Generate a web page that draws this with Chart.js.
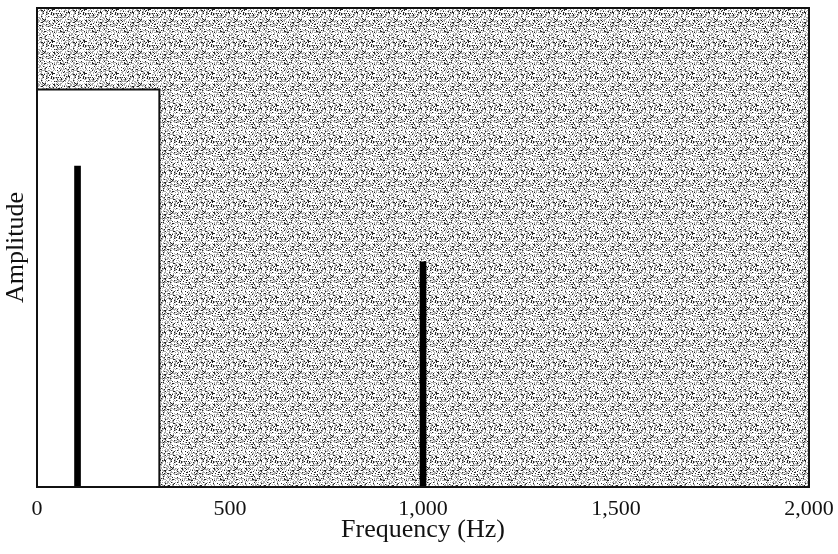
<!DOCTYPE html>
<html>
<head>
<meta charset="utf-8">
<script src="https://cdn.jsdelivr.net/npm/chart.js@4"></script>
<style>
  html, body { margin: 0; padding: 0; background: #fff; }
  #wrap { width: 838px; height: 554px; }
</style>
</head>
<body>
<div id="wrap"><canvas id="Spectrum-Chart" width="838" height="554"></canvas></div>
<script>
// data
const freqTicks = [0, 500, 1000, 1500, 2000]
const bandEdge = 317        // Hz, right side of the white band
const bandLevel = 83
const lineFreqs = [105, 1000]
const lineAmps = [67, 47]

// stipple tile for the plot background (fixed hash, same every run)
function makeStipple() {
  const n = 32
  const c = document.createElement("canvas")
  c.width = n
  c.height = n
  const g = c.getContext("2d")
  g.fillStyle = "#fff"
  g.fillRect(0, 0, n, n)
  for (let y = 0; y < n; y++) {
    for (let x = 0; x < n; x++) {
      let h = (x * 374761393 + y * 668265263) | 0
      h = Math.imul(h ^ (h >>> 13), 1274126177)
      h = ((h ^ (h >>> 16)) >>> 0) % 100
      if (h < 12) {
        g.fillStyle = "#222"
        g.fillRect(x, y, 1, 1)
      } else if (h < 42) {
        g.fillStyle = "#a8a8a8"
        g.fillRect(x, y, 1, 1)
      }
    }
  }
  return c
}

const plotBackground = {
  id: "plotBackground",
  beforeDatasetsDraw(chart) {
    const ctx = chart.ctx
    const a = chart.chartArea
    ctx.save()
    ctx.fillStyle = ctx.createPattern(makeStipple(), "repeat")
    ctx.fillRect(a.left, a.top, a.right - a.left, a.bottom - a.top)
    ctx.restore()
  },
  afterDatasetsDraw(chart) {
    const ctx = chart.ctx
    const a = chart.chartArea
    ctx.save()
    ctx.strokeStyle = "#111"
    ctx.lineWidth = 2
    ctx.strokeRect(a.left, a.top, a.right - a.left, a.bottom - a.top)
    ctx.restore()
  }
}

const serif = "'Liberation Serif', 'DejaVu Serif', serif"

var SpecChart = document.getElementById("Spectrum-Chart")

var SpectrumChart = new Chart(SpecChart, {
  data: {
    datasets: [
      {
        type: "bar",
        label: "lines",
        data: lineFreqs.map(function (f, i) { return { x: f, y: lineAmps[i] } }),
        backgroundColor: "#000",
        barThickness: 6,
        order: 1
      },
      {
        type: "line",
        label: "band",
        data: [
          { x: 0, y: bandLevel },
          { x: bandEdge, y: bandLevel },
          { x: bandEdge, y: 0 }
        ],
        borderColor: "#111",
        borderWidth: 2,
        backgroundColor: "#fff",
        fill: "origin",
        pointRadius: 0,
        tension: 0,
        order: 2
      }
    ]
  },
  options: {
    responsive: false,
    animation: false,
    layout: { padding: { top: 8, right: 29, left: 0, bottom: 0 } },
    plugins: {
      legend: { display: false },
      tooltip: { enabled: false }
    },
    scales: {
      x: {
        type: "linear",
        min: 0,
        max: 2000,
        offset: false,
        afterBuildTicks: function (axis) {
          axis.ticks = freqTicks.map(function (v) { return { value: v } })
        },
        afterFit: function (axis) {
          axis.height = 67
          axis.paddingLeft = 0
          axis.paddingRight = 0
        },
        grid: { display: false, drawTicks: false, offset: false },
        border: { display: false },
        ticks: {
          padding: 9,
          maxRotation: 0,
          color: "#111",
          font: { family: serif, size: 22 },
          callback: function (v) { return v.toLocaleString("en-US") }
        },
        title: {
          display: true,
          text: "Frequency (Hz)",
          color: "#111",
          padding: { top: 0, bottom: 8 },
          font: { family: serif, size: 26 }
        }
      },
      y: {
        min: 0,
        max: 100,
        afterFit: function (axis) { axis.width = 37 },
        grid: { display: false, drawTicks: false },
        border: { display: false },
        ticks: { display: false },
        title: {
          display: true,
          text: "Amplitude",
          color: "#111",
          padding: { top: 1, bottom: 0 },
          font: { family: serif, size: 26 }
        }
      }
    }
  },
  plugins: [plotBackground]
})
</script>
</body>
</html>
